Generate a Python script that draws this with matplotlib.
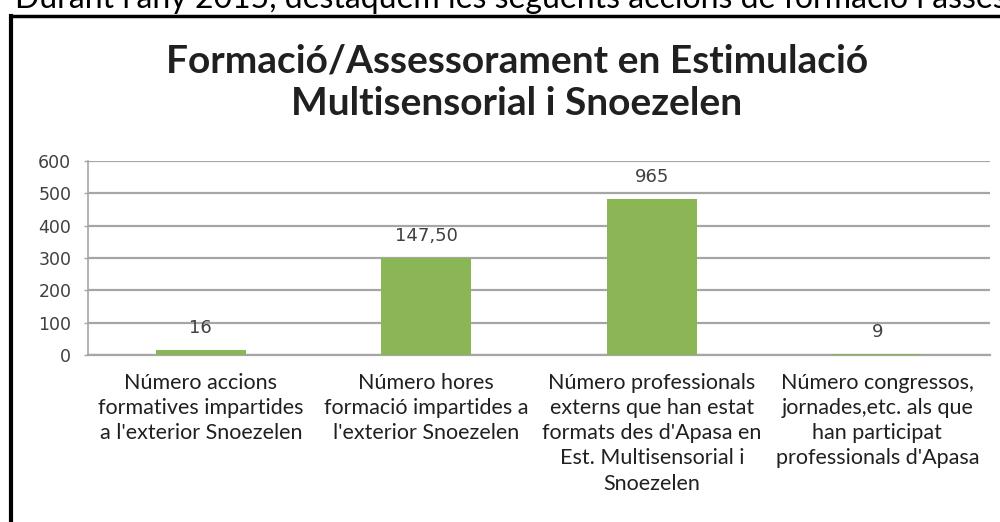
import matplotlib.pyplot as plt
from matplotlib.lines import Line2D

# Chart data
categories = [
    "Número accions\nformatives impartides\na l'exterior Snoezelen",
    "Número hores\nformació impartides a\nl'exterior Snoezelen",
    "Número professionals\nexterns que han estat\nformats des d'Apasa en\nEst. Multisensorial i\nSnoezelen",
    "Número congressos,\njornades,etc. als que\nhan participat\nprofessionals d'Apasa",
]
bar_heights = [16, 300, 482.5, 4.5]
value_labels = ["16", "147,50", "965", "9"]
y_ticks = [0, 100, 200, 300, 400, 500, 600]

title = "Formació/Assessorament en Estimulació\nMultisensorial i Snoezelen"
header = "Durant l'any 2015, destaquem les següents accions de formació i assessorament"

bar_color = "#8ab656"
grid_color = "#a6a6a6"
text_color = "#404040"

fig = plt.figure(figsize=(10, 5.22), dpi=100)
ax = fig.add_axes([0.088, 0.3199, 0.902, 0.3717])

x = range(len(categories))
ax.bar(x, bar_heights, width=0.4, color=bar_color, zorder=3)

for i, (h, lab) in enumerate(zip(bar_heights, value_labels)):
    ax.annotate(lab, (i, h), xytext=(0, 9), textcoords="offset points",
                ha="center", va="bottom", fontsize=13, color=text_color,
                family="DejaVu Sans")

ax.set_xlim(-0.5, len(categories) - 0.5)
ax.set_ylim(0, 600)
ax.set_yticks(y_ticks)
ax.set_yticklabels([str(t) for t in y_ticks], family="DejaVu Sans",
                   fontsize=12.5, color=text_color)
ax.yaxis.grid(True, color=grid_color, linewidth=1.6, zorder=0)
ax.tick_params(axis="y", length=3, width=1, color=grid_color, pad=9)

ax.set_xticks(list(x))
ax.set_xticklabels(categories, family="Lato", fontsize=15.5,
                   color="#202020", linespacing=1.32)
ax.tick_params(axis="x", length=0, pad=13)

for s in ["top", "right"]:
    ax.spines[s].set_visible(False)
ax.spines["left"].set_color(grid_color)
ax.spines["bottom"].set_color(grid_color)
ax.spines["left"].set_linewidth(1.2)
ax.spines["bottom"].set_linewidth(1.6)

fig.text(0.517, 0.842, title, ha="center", va="center", fontsize=28,
         fontweight="bold", family="Lato", color="#202020", linespacing=1.25)

# partially visible page text above the chart frame
fig.text(0.015, 0.9847, header, ha="left", va="baseline", fontsize=23,
         family="Lato", color="black")

# chart frame
fig.add_artist(Line2D([0.0105, 0.0105], [0, 0.969], color="black",
                      linewidth=3, transform=fig.transFigure))
fig.add_artist(Line2D([0.0105, 1.0], [0.969, 0.969], color="black",
                      linewidth=2.5, transform=fig.transFigure))

fig.savefig("out.png", dpi=100)
